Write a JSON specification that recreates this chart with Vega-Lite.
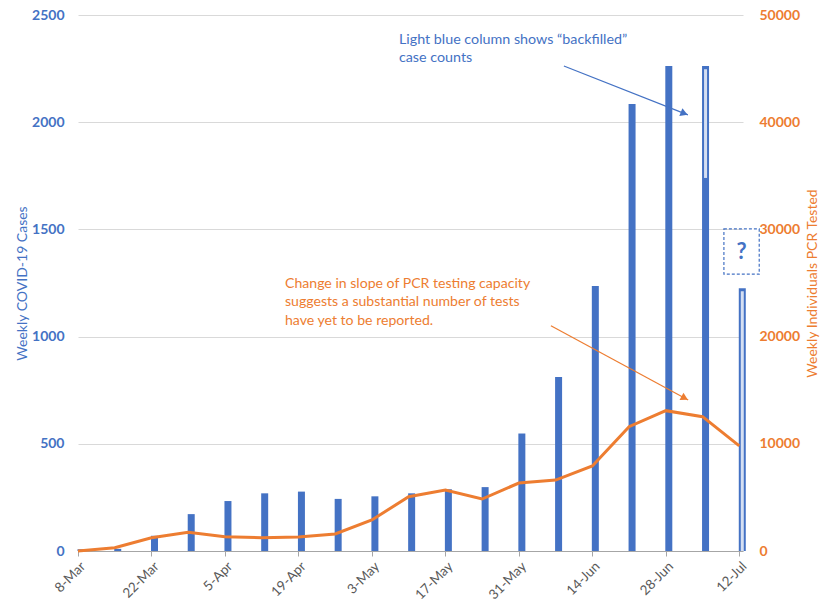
{
  "$schema": "https://vega.github.io/schema/vega-lite/v6.json",
  "width": 665,
  "height": 536,
  "autosize": "none",
  "padding": {"left": 78, "top": 15, "right": 87, "bottom": 55},
  "config": {
    "font": "Lato",
    "view": {"stroke": null},
    "axis": {"labelFont": "Lato", "titleFont": "Lato"}
  },
  "datasets": {
    "weeks": [
      {"week": "2020-03-08", "cases": 8, "tests": 0},
      {"week": "2020-03-15", "cases": 10, "tests": 300},
      {"week": "2020-03-22", "cases": 71, "tests": 1240},
      {"week": "2020-03-29", "cases": 172, "tests": 1740},
      {"week": "2020-04-05", "cases": 233, "tests": 1330},
      {"week": "2020-04-12", "cases": 269, "tests": 1240},
      {"week": "2020-04-19", "cases": 277, "tests": 1300},
      {"week": "2020-04-26", "cases": 243, "tests": 1590},
      {"week": "2020-05-03", "cases": 255, "tests": 2890},
      {"week": "2020-05-10", "cases": 269, "tests": 5070},
      {"week": "2020-05-17", "cases": 288, "tests": 5690},
      {"week": "2020-05-24", "cases": 298, "tests": 4850},
      {"week": "2020-05-31", "cases": 548, "tests": 6340},
      {"week": "2020-06-07", "cases": 812, "tests": 6620},
      {"week": "2020-06-14", "cases": 1236, "tests": 7930},
      {"week": "2020-06-21", "cases": 2085, "tests": 11600},
      {"week": "2020-06-28", "cases": 2262, "tests": 13090},
      {"week": "2020-07-05", "cases": 2262, "tests": 12530, "light_lo": 1740, "light_hi": 2247},
      {"week": "2020-07-12", "cases": 1225, "tests": 9800, "light_lo": 0, "light_hi": 1212}
    ]
  },
  "encoding": {
    "x": {
      "field": "week", "type": "temporal",
      "scale": {"type": "utc", "padding": 0, "domain": [{"year": 2020, "month": 3, "date": 8, "utc": true}, {"year": 2020, "month": 7, "date": 12, "hours": 17, "utc": true}]},
      "axis": {
        "title": null,
        "values": [
          {"year": 2020, "month": 3, "date": 8, "utc": true},
          {"year": 2020, "month": 3, "date": 22, "utc": true},
          {"year": 2020, "month": 4, "date": 5, "utc": true},
          {"year": 2020, "month": 4, "date": 19, "utc": true},
          {"year": 2020, "month": 5, "date": 3, "utc": true},
          {"year": 2020, "month": 5, "date": 17, "utc": true},
          {"year": 2020, "month": 5, "date": 31, "utc": true},
          {"year": 2020, "month": 6, "date": 14, "utc": true},
          {"year": 2020, "month": 6, "date": 28, "utc": true},
          {"year": 2020, "month": 7, "date": 12, "utc": true}
        ],
        "labelExpr": "utcFormat(datum.value, '%-d-%b')",
        "labelAngle": 315,
        "labelColor": "#595959",
        "labelFontSize": 13.5,
        "labelPadding": 3,
        "grid": false,
        "tickSize": 5,
        "tickColor": "#A6A6A6",
        "domainColor": "#A6A6A6",
        "labelOverlap": false
      }
    }
  },
  "layer": [
    {
      "layer": [
        {
          "data": {"name": "weeks"},
          "mark": {"type": "bar", "size": 7, "xOffset": 3, "color": "#4472C4"},
          "encoding": {
            "y": {
              "field": "cases", "type": "quantitative",
              "scale": {"domain": [0, 2500], "nice": false},
              "axis": {
                "orient": "left",
                "title": "Weekly COVID-19 Cases",
                "titleColor": "#4472C4",
                "titleFontSize": 14,
                "titleFontWeight": "normal",
                "titlePadding": 2,
                "labelColor": "#4472C4",
                "labelFontSize": 14,
                "labelFontWeight": "bold",
                "labelPadding": 14,
                "format": "d",
                "values": [0, 500, 1000, 1500, 2000, 2500],
                "domain": false,
                "ticks": false,
                "grid": true,
                "gridColor": "#D9D9D9"
              }
            }
          }
        },
        {
          "data": {"name": "weeks"},
          "transform": [{"filter": "datum.light_hi != null"}],
          "mark": {"type": "bar", "size": 3, "xOffset": 3, "color": "#D5DFF2"},
          "encoding": {
            "y": {"field": "light_lo", "type": "quantitative", "scale": {"domain": [0, 2500], "nice": false}},
            "y2": {"field": "light_hi"}
          }
        },
        {
          "data": {"values": [{"week": "2020-06-08T14:00:00Z", "week2": "2020-07-02T05:00:00Z", "y": 2262, "y2": 2034}]},
          "mark": {"type": "rule", "color": "#4472C4", "strokeWidth": 1.2},
          "encoding": {
            "x2": {"field": "week2"},
            "y": {"field": "y", "type": "quantitative", "scale": {"domain": [0, 2500], "nice": false}},
            "y2": {"field": "y2"}
          }
        },
        {
          "data": {"values": [{"week": "2020-07-01T12:15:00Z", "y": 2041}]},
          "mark": {"type": "point", "shape": "triangle-right", "filled": true, "opacity": 1, "size": 70, "angle": 21.6, "color": "#4472C4"},
          "encoding": {
            "y": {"field": "y", "type": "quantitative", "scale": {"domain": [0, 2500], "nice": false}}
          }
        },
        {
          "data": {"values": [{"week": "2020-06-06T02:40:00Z", "week2": "2020-07-02T06:30:00Z", "y": 1051, "y2": 704}]},
          "mark": {"type": "rule", "color": "#ED7D31", "strokeWidth": 1.2},
          "encoding": {
            "x2": {"field": "week2"},
            "y": {"field": "y", "type": "quantitative", "scale": {"domain": [0, 2500], "nice": false}},
            "y2": {"field": "y2"}
          }
        },
        {
          "data": {"values": [{"week": "2020-07-01T14:24:00Z", "y": 713}]},
          "mark": {"type": "point", "shape": "triangle-right", "filled": true, "opacity": 1, "size": 70, "angle": 28.4, "color": "#ED7D31"},
          "encoding": {
            "y": {"field": "y", "type": "quantitative", "scale": {"domain": [0, 2500], "nice": false}}
          }
        },
        {
          "data": {"values": [{"week": "2020-07-09T01:40:00Z", "week2": "2020-07-15T19:12:00Z", "y": 1502, "y2": 1291}]},
          "mark": {"type": "rect", "fill": null, "fillOpacity": 0, "stroke": "#4472C4", "strokeWidth": 1.2, "strokeDash": [3, 2]},
          "encoding": {
            "x2": {"field": "week2"},
            "y": {"field": "y", "type": "quantitative", "scale": {"domain": [0, 2500], "nice": false}},
            "y2": {"field": "y2"}
          }
        },
        {
          "data": {"values": [{"week": "2020-07-12T10:20:00Z", "y": 1395, "label": "?"}]},
          "mark": {"type": "text", "align": "center", "baseline": "middle", "fontSize": 22, "fontWeight": "bold", "color": "#4472C4"},
          "encoding": {
            "y": {"field": "y", "type": "quantitative", "scale": {"domain": [0, 2500], "nice": false}},
            "text": {"field": "label"}
          }
        },
        {
          "data": {"values": [{"week": "2020-05-08T03:36:00Z", "y": 2365, "label": "Light blue column shows “backfilled”\ncase counts"}]},
          "mark": {"type": "text", "align": "left", "baseline": "alphabetic", "fontSize": 14.3, "lineBreak": "\n", "lineHeight": 18.5, "color": "#4472C4"},
          "encoding": {
            "y": {"field": "y", "type": "quantitative", "scale": {"domain": [0, 2500], "nice": false}},
            "text": {"field": "label"}
          }
        },
        {
          "data": {"values": [{"week": "2020-04-16T10:30:00Z", "y": 1227, "label": "Change in slope of PCR testing capacity\nsuggests a substantial number of tests\nhave yet to be reported."}]},
          "mark": {"type": "text", "align": "left", "baseline": "alphabetic", "fontSize": 14.1, "lineBreak": "\n", "lineHeight": 18.3, "color": "#ED7D31"},
          "encoding": {
            "y": {"field": "y", "type": "quantitative", "scale": {"domain": [0, 2500], "nice": false}},
            "text": {"field": "label"}
          }
        }
      ]
    },
    {
      "data": {"name": "weeks"},
      "mark": {"type": "line", "color": "#ED7D31", "strokeWidth": 3},
      "encoding": {
        "y": {
          "field": "tests", "type": "quantitative",
          "scale": {"domain": [0, 50000], "nice": false},
          "axis": {
            "orient": "right",
            "title": "Weekly Individuals PCR Tested",
            "titleColor": "#ED7D31",
            "titleFontSize": 14,
            "titleFontWeight": "normal",
            "titleAngle": 270,
            "titleBaseline": "top",
            "titlePadding": 6,
            "labelColor": "#ED7D31",
            "labelFontSize": 14,
            "labelFontWeight": "bold",
            "labelPadding": 16,
            "format": "d",
            "values": [0, 10000, 20000, 30000, 40000, 50000],
            "domain": false,
            "ticks": false,
            "grid": false
          }
        }
      }
    }
  ],
  "resolve": {"scale": {"y": "independent"}}
}
